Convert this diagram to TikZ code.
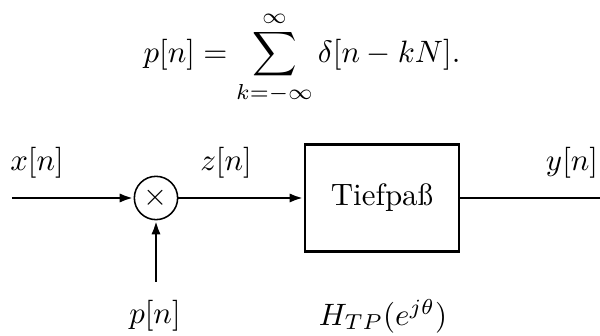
\documentclass[tikz,border=0pt]{standalone}
\usepackage{amsmath}
\usetikzlibrary{arrows.meta, positioning}

\begin{document}
\begin{tikzpicture}[
  x=0.3233pt, y=-0.3233pt,
  sigline/.style={line width=0.95pt, -{Latex[length=4.5pt, width=3pt]}},
  plainline/.style={line width=0.95pt},
  multnode/.style={circle, draw, line width=0.5pt, minimum size=14pt, inner sep=0pt},
  tpbox/.style={draw, line width=0.95pt, minimum width=49.8pt, minimum height=34.6pt,
    inner sep=0pt},
  siglabel/.style={inner sep=0pt}
]
  \useasboundingbox (0,0) rectangle (600,336);

  % Impulse train
  \node[siglabel] (eqn) at (302,58)
    {$\displaystyle p[n] = \sum_{k=-\infty}^{\infty} \delta[n-kN].$};

  % Blocks
  \node[multnode] (mult) at (156,198) {$\times$};
  \node[tpbox] (tp) at (382,198) {Tiefpaß};

  % Ends
  \coordinate (xin) at (12,198);
  \coordinate (pin) at (156,282);
  \coordinate (yout) at (600,198);

  % Connectors
  \draw[sigline] (xin) -- (mult);
  \draw[sigline] (pin) -- (mult);
  \draw[sigline] (mult) -- (tp);
  \draw[plainline] (tp.east) -- (yout);

  % Labels
  \node[siglabel] (xlab) at (37,163) {$x[n]$};
  \node[siglabel] (zlab) at (226,163) {$z[n]$};
  \node[siglabel] (ylab) at (572,163) {$y[n]$};
  \node[siglabel] (plab) at (155,316) {$p[n]$};
  \node[siglabel] (hlab) at (383,316) {$H_{TP}(e^{j\theta})$};
\end{tikzpicture}
\end{document}
